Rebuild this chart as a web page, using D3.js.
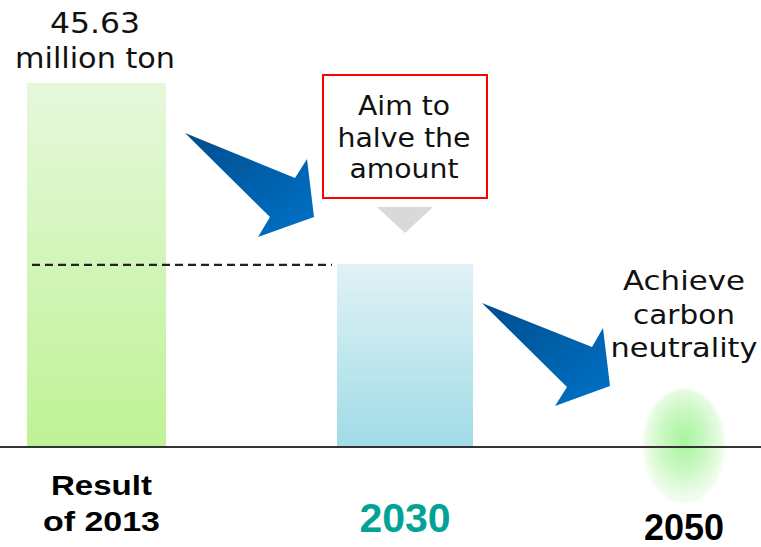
<!DOCTYPE html>
<html>
<head>
<meta charset="utf-8">
<script src="https://cdnjs.cloudflare.com/ajax/libs/d3/7.8.5/d3.min.js"></script>
<style>
  html, body { margin: 0; padding: 0; background: #fff; }
  svg { display: block; }
  .lbl { font-family: "DejaVu Sans", "Noto Sans", sans-serif; fill: #111; }
  .axislbl { font-family: "Liberation Sans", Arial, sans-serif; font-weight: bold; }
</style>
</head>
<body>
<div id="chart"></div>
<script>
// data
var categories = ["2013", "2030", "2050"];
var emissions = [45.63, 22.9, 0];
var axisLabels = [["Result", "of 2013"], ["2030"], ["2050"]];
var topLabel = ["45.63", "million ton"];
var goalLabel = ["Aim to", "halve the", "amount"];
var neutralLabel = ["Achieve", "carbon", "neutrality"];

var W = 761, H = 547;
var baseY = 446;

var svg = d3.select("#chart").append("svg")
    .attr("width", W)
    .attr("height", H);

var defs = svg.append("defs");

var x = d3.scaleOrdinal()
    .domain(categories)
    .range([96.5, 405, 684]);
var barW = d3.scaleOrdinal()
    .domain(categories)
    .range([139, 136, 0]);
var y = d3.scaleLinear()
    .domain([0, 45.63])
    .range([baseY, 83]);

var fills = [["#e6f8dc", "#bff295"], ["#e1f2f6", "#a0dce6"]];
fills.forEach(function(f, i) {
  var g = defs.append("linearGradient")
      .attr("id", "bar" + i)
      .attr("x1", 0).attr("y1", 0).attr("x2", 0).attr("y2", 1);
  g.append("stop").attr("offset", "0%").attr("stop-color", f[0]);
  g.append("stop").attr("offset", "100%").attr("stop-color", f[1]);
});

var ag = defs.append("linearGradient")
    .attr("id", "arrowGrad")
    .attr("x1", 0).attr("y1", 0).attr("x2", 1).attr("y2", 1);
ag.append("stop").attr("offset", "0%").attr("stop-color", "#004d8c");
ag.append("stop").attr("offset", "100%").attr("stop-color", "#0072c8");

var rg = defs.append("radialGradient")
    .attr("id", "glow")
    .attr("cx", "50%").attr("cy", "45%").attr("r", "50%");
rg.append("stop").attr("offset", "0%").attr("stop-color", "#a6f59c");
rg.append("stop").attr("offset", "60%").attr("stop-color", "#cff8c8");
rg.append("stop").attr("offset", "100%").attr("stop-color", "#effdec");
defs.append("filter").attr("id", "soft")
    .attr("x", "-20%").attr("y", "-20%").attr("width", "140%").attr("height", "140%")
  .append("feGaussianBlur").attr("stdDeviation", 1.5);

// bars
svg.selectAll("rect.bar")
    .data(emissions.slice(0, 2))
  .enter().append("rect")
    .attr("class", "bar")
    .attr("x", function(d, i) { return x(categories[i]) - barW(categories[i]) / 2; })
    .attr("y", function(d) { return y(d); })
    .attr("width", function(d, i) { return barW(categories[i]); })
    .attr("height", function(d) { return baseY - y(d); })
    .attr("fill", function(d, i) { return "url(#bar" + i + ")"; });

// glow for zero emission
svg.append("ellipse")
    .attr("cx", x(categories[2]))
    .attr("cy", y(emissions[2]))
    .attr("rx", 41)
    .attr("ry", 57)
    .attr("fill", "url(#glow)")
    .attr("filter", "url(#soft)");

// dashed line at 2030 level
svg.append("line")
    .attr("x1", 32).attr("x2", 332)
    .attr("y1", y(emissions[1]) + 1).attr("y2", y(emissions[1]) + 1)
    .attr("stroke", "#222")
    .attr("stroke-width", 2.2)
    .attr("stroke-dasharray", "8,5");

// baseline
svg.append("line")
    .attr("x1", 0).attr("x2", W)
    .attr("y1", baseY + 1).attr("y2", baseY + 1)
    .attr("stroke", "#333")
    .attr("stroke-width", 2);

// arrows
var arrows = [
  [[185, 133], [295, 178], [307, 159], [314, 217], [258, 237], [270, 217]],
  [[482, 303], [592, 347], [603, 328], [610, 386], [555, 406], [567, 387]]
];
svg.selectAll("path.arrow")
    .data(arrows)
  .enter().append("path")
    .attr("class", "arrow")
    .attr("d", function(d) { return d3.line()(d) + "Z"; })
    .attr("fill", "url(#arrowGrad)");

// callout
svg.append("rect")
    .attr("x", 323).attr("y", 75)
    .attr("width", 164).attr("height", 123)
    .attr("fill", "#fff")
    .attr("stroke", "#ff0000")
    .attr("stroke-width", 2);
svg.append("path")
    .attr("d", "M377,207L433,207L405,233Z")
    .attr("fill", "#d9d9d9");

// one <text> per line, widths matched to the reference
function block(lines, widths, cx, y0, step, size) {
  svg.selectAll(null)
      .data(lines)
    .enter().append("text")
      .attr("class", "lbl")
      .attr("text-anchor", "middle")
      .style("font-size", size + "px")
      .attr("x", cx)
      .attr("y", function(d, i) { return y0 + i * step; })
      .attr("textLength", function(d, i) { return widths[i]; })
      .attr("lengthAdjust", "spacingAndGlyphs")
      .text(function(d) { return d; });
}
block(topLabel, [90, 160], 95, 33, 35, 28);
block(goalLabel, [92, 133, 109], 404, 115, 31.5, 26);
block(neutralLabel, [122, 102, 147], 684, 290, 33.5, 27);

// category labels
svg.selectAll(null)
    .data(axisLabels[0])
  .enter().append("text")
    .attr("class", "axislbl")
    .attr("text-anchor", "middle")
    .style("font-size", "28px")
    .attr("x", x(categories[0]) + 5)
    .attr("y", function(d, i) { return 495 + i * 36; })
    .attr("textLength", function(d, i) { return i ? 117 : 101; })
    .attr("lengthAdjust", "spacingAndGlyphs")
    .text(function(d) { return d; });

svg.append("text")
    .attr("class", "axislbl")
    .attr("x", x(categories[1]))
    .attr("y", 532)
    .attr("text-anchor", "middle")
    .style("font-size", "41px")
    .attr("fill", "#00a396")
    .text(axisLabels[1][0]);

svg.append("text")
    .attr("class", "axislbl")
    .attr("x", x(categories[2]))
    .attr("y", 540)
    .attr("text-anchor", "middle")
    .style("font-size", "36px")
    .attr("fill", "#000")
    .text(axisLabels[2][0]);
</script>
</body>
</html>
